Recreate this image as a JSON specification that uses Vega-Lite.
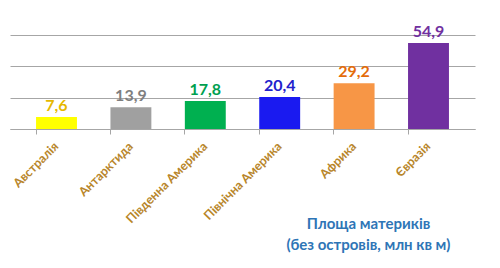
{
  "$schema": "https://vega.github.io/schema/vega-lite/v6.json",
  "autosize": {"type": "fit", "contains": "padding"},
  "width": 500,
  "height": 268,
  "padding": {"left": 10, "right": 25, "top": 35, "bottom": 14},
  "config": {
    "font": "Lato",
    "view": {"stroke": null},
    "locale": {"number": {"decimal": ",", "thousands": " ", "grouping": [3], "currency": ["", ""]}}
  },
  "title": {
    "text": ["Площа материків", "(без островів, млн кв м)"],
    "orient": "bottom",
    "anchor": "middle",
    "align": "center",
    "fontSize": 15,
    "font": "Lato",
    "fontWeight": "bold",
    "color": "#2E75B6",
    "lineHeight": 21,
    "offset": -8,
    "dx": 126
  },
  "data": {
    "values": [
      {"continent": "Австралія", "area": 7.6},
      {"continent": "Антарктида", "area": 13.9},
      {"continent": "Південна Америка", "area": 17.8},
      {"continent": "Північна Америка", "area": 20.4},
      {"continent": "Африка", "area": 29.2},
      {"continent": "Євразія", "area": 54.9}
    ]
  },
  "encoding": {
    "x": {
      "field": "continent",
      "type": "nominal",
      "sort": null,
      "scale": {"paddingInner": 0.45, "paddingOuter": 0.35},
      "axis": {
        "title": null,
        "labelAngle": -45,
        "labelAlign": "right",
        "labelBaseline": "middle",
        "labelColor": "#B8862B",
        "labelFontWeight": "bold",
        "labelFontSize": 12.5,
        "labelFont": "Lato",
        "labelPadding": 10,
        "domainColor": "#A6A6A6",
        "tickColor": "#A6A6A6",
        "ticks": true,
        "bandPosition": 0
      }
    },
    "y": {
      "field": "area",
      "type": "quantitative",
      "scale": {"domain": [0, 60]},
      "axis": {
        "title": null,
        "labels": false,
        "ticks": false,
        "domain": false,
        "values": [0, 20, 40, 60],
        "gridColor": "#A6A6A6",
        "grid": true
      }
    }
  },
  "layer": [
    {
      "mark": {"type": "bar"},
      "encoding": {
        "color": {
          "field": "continent",
          "type": "nominal",
          "legend": null,
          "scale": {
            "domain": ["Австралія", "Антарктида", "Південна Америка", "Північна Америка", "Африка", "Євразія"],
            "range": ["#FFFF00", "#A0A0A0", "#00B050", "#1A1AF0", "#F79646", "#7030A0"]
          }
        }
      }
    },
    {
      "mark": {"type": "text", "dy": -11, "fontSize": 16, "fontWeight": "bold", "font": "Lato"},
      "encoding": {
        "text": {"field": "area", "type": "quantitative", "format": ".1f"},
        "color": {
          "field": "continent",
          "type": "nominal",
          "legend": null,
          "scale": {
            "domain": ["Австралія", "Антарктида", "Південна Америка", "Північна Америка", "Африка", "Євразія"],
            "range": ["#E6B800", "#7F7F7F", "#00A050", "#2222CC", "#E46C0A", "#7030A0"]
          }
        }
      }
    }
  ],
  "resolve": {"scale": {"color": "independent"}}
}
